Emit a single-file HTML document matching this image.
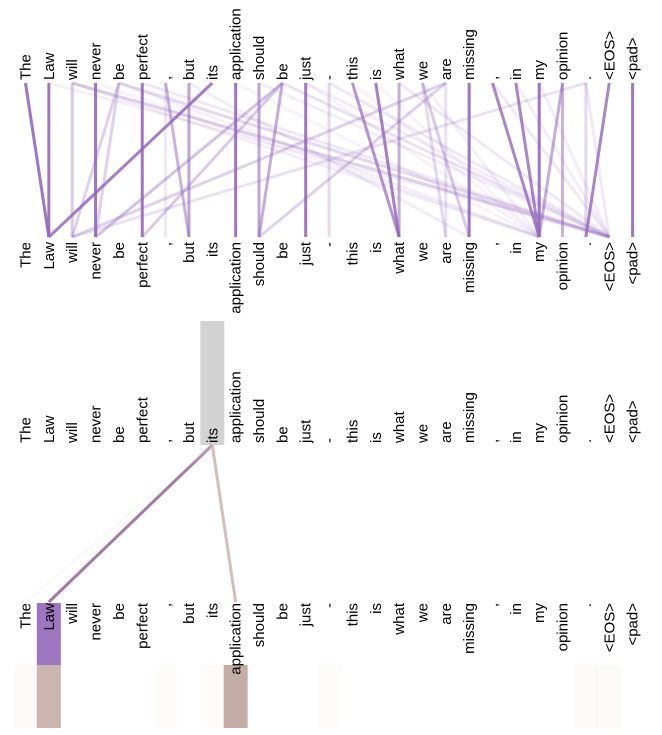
<!DOCTYPE html>
<html><head><meta charset="utf-8"><style>
html,body{margin:0;padding:0;background:#fff;}
svg{display:block;font-family:"Liberation Sans",sans-serif;}
</style></head><body>
<svg id="chart" width="662" height="735" viewBox="0 0 662 735"></svg>
<script>
const tokens = ["The","Law","will","never","be","perfect",",","but","its","application","should","be","just","-","this","is","what","we","are","missing",",","in","my","opinion",".","<EOS>","<pad>"];
// top panel attention links: source (upper), target (lower), weight
const topSrc = [0,1,2,3,4,5,6,7,8,9,10,11,12,13,14,15,16,17,18,19,20,21,22,23,23,24,25,26, 2,2,4,4,4,6,11,11,11,13,17,17,18,18,24,24,3,5,9,12,14,16,20,21,7,10,1,12,15,22];
const topTgt = [1,1,2,3,2,5,7,7,1,9,10,10,12,13,16,16,16,19,10,19,22,22,22,23,22,24,24,26, 25,22,25,3,22,6,3,5,25,25,18,22,18,2,2,25,22,25,22,25,22,25,25,25,19,25,25,22,22,25];
const topW   = [0.9,0.9,0.35,0.9,0.3,0.9,0.5,0.6,0.85,0.9,0.6,0.55,0.9,0.25,0.7,0.85,0.55,0.35,0.3,0.9,0.8,0.8,0.9,0.5,0.55,0.25,0.8,0.9, 0.3,0.12,0.25,0.3,0.1,0.15,0.4,0.35,0.2,0.15,0.25,0.1,0.2,0.3,0.2,0.15,0.08,0.15,0.08,0.12,0.08,0.15,0.15,0.12,0.12,0.12,0.1,0.08,0.08,0.12];
// bottom panel: selected token and its attention
const selIndex = 8;
const botTgt = [1,9,0];
const botW = [0.9,0.75,0.05];
const lowerBoxW = [0.03,0.45,0,0,0,0,0.02,0,0.02,0.5,0,0,0,0.02,0,0,0,0,0,0,0,0,0,0,0.03,0.03,0];

const svg = document.getElementById('chart');
const NS = 'http://www.w3.org/2000/svg';
const x = i => 25.5 + 23.35 * i;
function mk(tag, attrs){const e=document.createElementNS(NS,tag);for(const k in attrs)e.setAttribute(k,attrs[k]);svg.appendChild(e);return e;}
function label(i, y, upper, panel){
  const t = mk('text',{transform:`translate(${x(i)+5},${y}) rotate(-90)`,'text-anchor':upper?'start':'end','font-size':15,fill:'#000'});
  t.textContent = tokens[i];
  
  
}
const selBox = mk('rect',{x:x(selIndex)-12,y:321,width:24,height:124,fill:'#d3d3d3'});


const lawBox = mk('rect',{x:x(1)-12,y:603,width:24,height:62,fill:'#9e76c0'});


lowerBoxW.forEach((w,i)=>{
  if(w<=0) return;
  const r = mk('rect',{x:x(i)-12,y:665,width:24,height:63,fill:'#8c5a4b','fill-opacity':w});
  
  
});
topSrc.forEach((s,k)=>{
  const l = mk('line',{x1:x(s),y1:83,x2:x(topTgt[k]),y2:237,stroke:'#9467bd','stroke-width':3,'stroke-opacity':topW[k]});
  
  
});
const botColors = ['#9a6a9a','#c4a8a8','#eeeeee'];
botTgt.forEach((t,k)=>{
  const l = mk('line',{x1:x(selIndex),y1:445,x2:x(t),y2:602,stroke:botColors[k],'stroke-width':3,'stroke-opacity':Math.max(botW[k],0.3)});
  
  
});
tokens.forEach((_,i)=>{
  label(i,80,true,'top');
  label(i,242,false,'top');
  label(i,443,true,'bottom');
  label(i,603,false,'bottom');
});
</script>
</body></html>
